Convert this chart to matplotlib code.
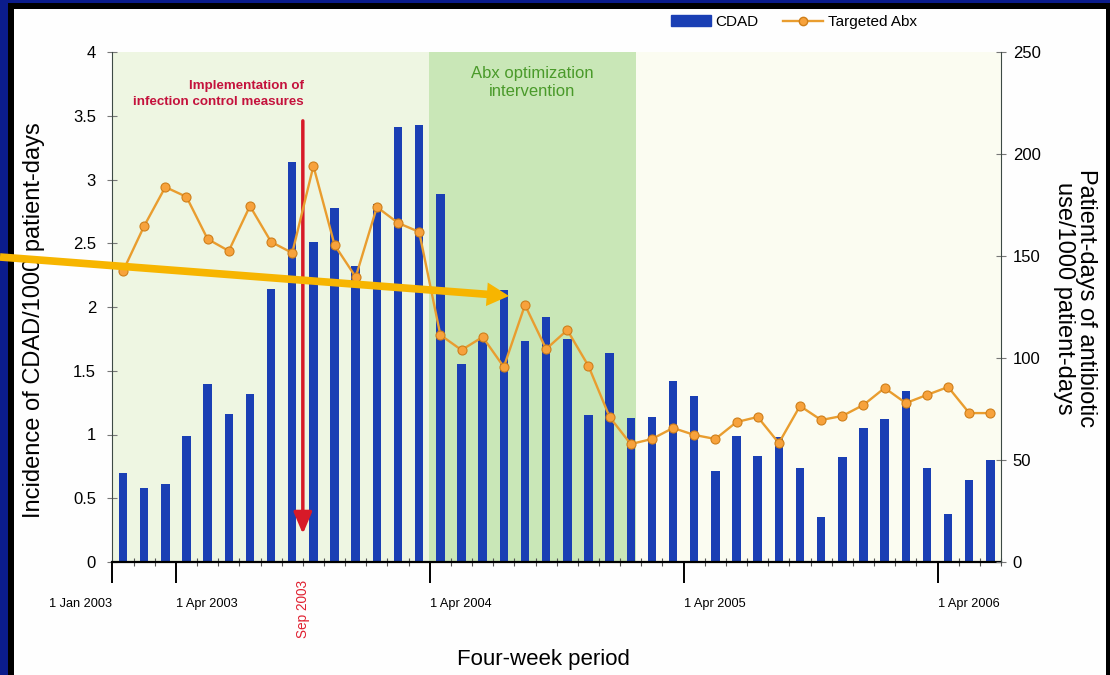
import matplotlib.pyplot as plt
import numpy as np
from matplotlib.patches import Rectangle, FancyArrowPatch
from matplotlib.lines import Line2D
from matplotlib.transforms import blended_transform_factory

# CDAD incidence per four-week period (left axis)
cdad = [0.70, 0.58, 0.61, 0.99, 1.40, 1.16, 1.32, 2.14, 3.14, 2.51,
        2.78, 2.32, 2.81, 3.41, 3.43, 2.89, 1.55, 1.74, 2.13, 1.73,
        1.92, 1.75, 1.15, 1.64, 1.13, 1.14, 1.42, 1.30, 0.71, 0.99,
        0.83, 0.98, 0.74, 0.35, 0.82, 1.05, 1.12, 1.34, 0.74, 0.38,
        0.64, 0.80]
# targeted antibiotic use (right axis)
abx = [142.6, 164.7, 183.8, 179.0, 158.3, 152.5, 174.5, 156.9, 151.5, 194.1,
       155.4, 139.7, 174.0, 166.2, 161.8, 111.3, 103.9, 110.3, 95.6, 126.0,
       104.4, 113.7, 96.1, 71.1, 57.8, 60.3, 65.7, 62.3, 60.3, 68.6,
       71.1, 58.3, 76.5, 69.6, 71.6, 77.0, 85.3, 77.9, 81.9, 85.8,
       73.0, 73.0]

date_pos = [-0.5, 2.5, 14.5, 26.5, 38.5]
date_labels = ["1 Jan 2003", "1 Apr 2003", "1 Apr 2004", "1 Apr 2005", "1 Apr 2006"]
left_ticks = [0, 0.5, 1, 1.5, 2, 2.5, 3, 3.5, 4]
left_labels = ["0", "0.5", "1", "1.5", "2", "2.5", "3", "3.5", "4"]
right_ticks = [0, 50, 100, 150, 200, 250]

sep2003 = 8.5
abx_start, abx_end = 14.45, 24.25

plt.rcParams["font.family"] = ["Liberation Sans", "DejaVu Sans"]

W, H = 1110, 675
fig = plt.figure(figsize=(W / 100, H / 100), dpi=100, facecolor="#fefefe")
ax = fig.add_axes([112 / W, 113 / H, 889 / W, 510 / H])

x = np.arange(len(cdad))
xmin, xmax = -0.52, len(cdad) - 0.5

# background shading
ax.set_facecolor("#fbfcf1")
ax.axvspan(xmin, abx_start, color="#eef6e2", lw=0, zorder=0)
ax.axvspan(abx_start, abx_end, color="#c9e7b7", lw=0, zorder=0)

ax.bar(x, cdad, width=0.4, color="#1a3fb4", zorder=2)
ax.set_xlim(xmin, xmax)
ax.set_ylim(0, 4)

ax2 = ax.twinx()
ax2.plot(x, abx, color="#e99d2f", lw=1.7, marker="o", ms=6.5,
         mfc="#f7a23c", mec="#cf7f1a", mew=0.8, zorder=3)
ax2.set_ylim(0, 250)
ax2.set_yticks(right_ticks)

# axes styling
for a in (ax, ax2):
    a.spines["top"].set_visible(False)
ax.spines["left"].set_color("#3d4a45")
ax2.spines["right"].set_color("#3d4a45")
ax2.spines["left"].set_visible(False)
ax.spines["right"].set_visible(False)
ax2.spines["bottom"].set_visible(False)
ax.spines["bottom"].set_linewidth(1.6)

ax.set_yticks(left_ticks)
ax.set_yticklabels(left_labels)
ax.tick_params(axis="y", direction="inout", length=7, width=0.8, color="#777",
               labelsize=12, pad=8)
ax2.tick_params(axis="y", direction="inout", length=7, width=0.8, color="#777",
                labelsize=12, pad=5)

ax.set_xticks(date_pos)
ax.set_xticklabels(date_labels)
minor = [p + 0.5 for p in range(-1, len(cdad)) if p + 0.5 not in date_pos]
ax.set_xticks(minor, minor=True)
ax.tick_params(axis="x", which="major", direction="out", length=15, width=1.4,
               color="black", labelsize=9.2, pad=11)
ax.tick_params(axis="x", which="minor", direction="inout", length=6, width=0.8,
               color="#555")
for i, lab in enumerate(ax.get_xticklabels()):
    lab.set_ha("right" if i == 0 else "left")

# infection control marker
ax.annotate("", xy=(sep2003, 0.22), xytext=(sep2003, 3.46),
            arrowprops=dict(arrowstyle="-|>,head_length=1.3,head_width=0.55",
                            color="#d71a28", lw=2.5, shrinkA=0, shrinkB=0),
            zorder=4)
ax.text(sep2003 + 0.05, 3.67, "Implementation of\ninfection control measures",
        ha="right", va="center", color="#c4123c", fontsize=9.6,
        fontweight="bold", linespacing=1.45)
trans = blended_transform_factory(ax.transData, ax.transAxes)
ax.text(sep2003, -0.035, "Sep 2003", transform=trans, rotation=90,
        ha="center", va="top", color="#e02030", fontsize=9.8)

ax.text((abx_start + abx_end) / 2, 3.76, "Abx optimization\nintervention",
        ha="center", va="center", color="#4a9a2a", fontsize=12,
        linespacing=1.3)

# axis titles
fig.text(34 / W, 1 - 320 / H, "Incidence of CDAD/1000 patient-days",
         rotation=90, ha="center", va="center", fontsize=17)
fig.text(1075 / W, 1 - 298 / H,
         "Patient-days of antibiotic\nuse/1000 patient-days",
         rotation=270, ha="center", va="center", fontsize=17,
         linespacing=0.95)
fig.text(543 / W, 1 - 660 / H, "Four-week period", ha="center",
         va="center", fontsize=16)

# legend above the plot
handles = [Rectangle((0, 0), 1, 1, color="#1a3fb4"),
           Line2D([], [], color="#e99d2f", lw=1.7, marker="o", ms=6,
                  mfc="#f7a23c", mec="#cf7f1a")]
fig.legend(handles, ["CDAD", "Targeted Abx"], loc="center",
           bbox_to_anchor=(794 / W, 1 - 22 / H), ncol=2, frameon=False,
           handlelength=2.6, handletextpad=0.3, columnspacing=1.6,
           prop={"size": 11})

# slide frame
fig.add_artist(Rectangle((0, 0), 8 / W, 1, transform=fig.transFigure,
                         color="#0b1c8c", lw=0, zorder=5))
fig.add_artist(Rectangle((8 / W, 0), 6 / W, 1, transform=fig.transFigure,
                         color="black", lw=0, zorder=5))
fig.add_artist(Rectangle((0, 1 - 3 / H), 1, 3 / H, transform=fig.transFigure,
                         color="#0b1c8c", lw=0, zorder=5))
fig.add_artist(Rectangle((8 / W, 1 - 9 / H), 1, 6 / H, transform=fig.transFigure,
                         color="black", lw=0, zorder=5))
fig.add_artist(Rectangle((1 - 4 / W, 0), 4 / W, 1 - 3 / H,
                         transform=fig.transFigure, color="black", lw=0,
                         zorder=5))

# yellow pointer arrow
fig.add_artist(FancyArrowPatch((0, 1 - 257 / H), (509 / W, 1 - 296 / H),
                               transform=fig.transFigure,
                               arrowstyle="simple,head_length=1.6,head_width=1.7,tail_width=0.55",
                               mutation_scale=10, color="#f7b500", lw=0,
                               shrinkA=0, shrinkB=0, zorder=6))

fig.savefig("out.png", dpi=100, facecolor=fig.get_facecolor())
